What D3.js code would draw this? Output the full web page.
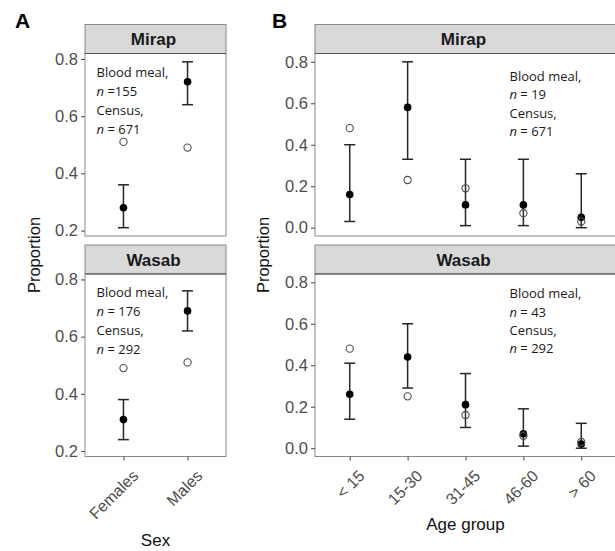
<!DOCTYPE html>
<html><head><meta charset="utf-8">
<script src="https://cdn.jsdelivr.net/npm/d3@7"></script>
<style>body{margin:0;background:#fff}</style>
</head><body><svg id="c" width="615" height="551"></svg>
<script>
// ---------- DATA ----------
const sites = ["Mirap", "Wasab"];
const sexCategories = ["Females", "Males"];
const ageCategories = ["< 15", "15-30", "31-45", "46-60", "> 60"];

const sexMirapEst    = [0.28, 0.72];
const sexMirapLo     = [0.21, 0.64];
const sexMirapHi     = [0.36, 0.79];
const sexMirapCensus = [0.51, 0.49];
const sexWasabEst    = [0.31, 0.69];
const sexWasabLo     = [0.24, 0.62];
const sexWasabHi     = [0.38, 0.76];
const sexWasabCensus = [0.49, 0.51];

const ageMirapEst    = [0.16, 0.58, 0.11, 0.11, 0.05];
const ageMirapLo     = [0.03, 0.33, 0.01, 0.01, 0.00];
const ageMirapHi     = [0.40, 0.80, 0.33, 0.33, 0.26];
const ageMirapCensus = [0.48, 0.23, 0.19, 0.07, 0.03];
const ageWasabEst    = [0.26, 0.44, 0.21, 0.07, 0.02];
const ageWasabLo     = [0.14, 0.29, 0.10, 0.01, 0.00];
const ageWasabHi     = [0.41, 0.60, 0.36, 0.19, 0.12];
const ageWasabCensus = [0.48, 0.25, 0.16, 0.06, 0.03];

const sexTicks = [0.2, 0.4, 0.6, 0.8];
const ageTicks = [0.0, 0.2, 0.4, 0.6, 0.8];

const sexBloodN  = [" =155", " = 176"];
const sexCensusN = [" = 671", " = 292"];
const ageBloodN  = [" = 19", " = 43"];
const ageCensusN = [" = 671", " = 292"];

// ---------- LAYOUT ----------
const svg = d3.select("#c");
const FONT = "'Liberation Sans', Arial, sans-serif";
const panelTops = [53.5, 274];
const panelH = 182.5;
const stripH = 29;

function expand(lo, hi) { const r = hi - lo; return [lo - r * 0.05, hi + r * 0.05]; }

function drawFacet(cfg) {
  const allVals = cfg.series.flatMap(s => [...s.lo, ...s.hi, ...s.est, ...s.census]);
  const ydom = expand(d3.min(allVals), d3.max(allVals));
  const n = cfg.cats.length;
  const x = d3.scaleLinear().domain([-0.6, n - 1 + 0.6]).range([cfg.x0, cfg.x1]);

  cfg.series.forEach((s, k) => {
    const top = panelTops[k];
    const y = d3.scaleLinear().domain(ydom).range([top + panelH, top]);
    const g = svg.append("g");

    // strip
    g.append("rect").attr("x", cfg.x0).attr("y", top - stripH).attr("width", cfg.x1 - cfg.x0).attr("height", stripH)
      .attr("fill", "#d9d9d9").attr("stroke", "#8a8a8a").attr("stroke-width", 1);
    g.append("text").attr("x", (cfg.x0 + cfg.x1) / 2 - 2).attr("y", top - stripH / 2 + 6)
      .attr("text-anchor", "middle").attr("font-family", FONT).attr("font-weight", "bold")
      .attr("font-size", 17).attr("fill", "#1a1a1a").text(sites[k]);

    // panel
    g.append("rect").attr("x", cfg.x0).attr("y", top).attr("width", cfg.x1 - cfg.x0).attr("height", panelH)
      .attr("fill", "#fff").attr("stroke", "#8a8a8a").attr("stroke-width", 1);
    g.append("line").attr("x1", cfg.x0).attr("x2", cfg.x1).attr("y1", top).attr("y2", top)
      .attr("stroke", "#555").attr("stroke-width", 1);

    // y axis
    const ya = g.append("g").attr("transform", `translate(${cfg.x0},0)`)
      .call(d3.axisLeft(y).tickValues(cfg.ticks).tickSize(4).tickPadding(3).tickFormat(d3.format(".1f")));
    ya.select(".domain").remove();
    ya.selectAll("line").attr("stroke", "#444");
    ya.selectAll("text").attr("font-family", FONT).attr("font-size", 16.5).attr("fill", "#4d4d4d");

    // x axis (bottom row only)
    if (k === cfg.series.length - 1) {
      const xa = g.append("g").attr("transform", `translate(0,${top + panelH})`)
        .call(d3.axisBottom(x).tickValues(d3.range(n)).tickSize(4).tickFormat(i => cfg.cats[i]));
      xa.select(".domain").remove();
      xa.selectAll("line").attr("stroke", "#444");
      xa.selectAll("text").attr("x", 0).attr("y", 0).attr("dy", "0.74em").attr("text-anchor", "end")
        .attr("transform", "translate(7,12) rotate(-45)")
        .attr("font-family", FONT).attr("font-size", 16).attr("fill", "#4d4d4d");
    }

    // error bars
    const idx = d3.range(n);
    const eb = g.append("g").attr("stroke", "#262626").attr("stroke-width", 1.5).attr("fill", "none");
    eb.selectAll(".v").data(idx).join("line")
      .attr("x1", i => x(i)).attr("x2", i => x(i)).attr("y1", i => y(s.lo[i])).attr("y2", i => y(s.hi[i]));
    eb.selectAll(".t").data(idx).join("line").attr("class", "t")
      .attr("x1", i => x(i) - 5.5).attr("x2", i => x(i) + 5.5).attr("y1", i => y(s.hi[i])).attr("y2", i => y(s.hi[i]));
    eb.selectAll(".b").data(idx).join("line").attr("class", "b")
      .attr("x1", i => x(i) - 5.5).attr("x2", i => x(i) + 5.5).attr("y1", i => y(s.lo[i])).attr("y2", i => y(s.lo[i]));

    // estimate points
    g.append("g").selectAll("circle").data(idx).join("circle")
      .attr("cx", i => x(i)).attr("cy", i => y(s.est[i])).attr("r", 3.8).attr("fill", "#000");
    // census points
    g.append("g").selectAll("circle").data(idx).join("circle")
      .attr("cx", i => x(i)).attr("cy", i => y(s.census[i])).attr("r", 3.6)
      .attr("fill", "none").attr("stroke", "#4a4a4a").attr("stroke-width", 1.1);

    // annotation
    const ax = x(cfg.noteX), ay = y(cfg.noteY[k]);
    const lines = [["", "Blood meal,"], ["n", cfg.bloodN[k]], ["", "Census,"], ["n", cfg.censusN[k]]];
    const t = g.append("text").attr("font-family", "'Open Sans', sans-serif").attr("font-size", 13).attr("fill", "#1a1a1a");
    lines.forEach((ln, j) => {
      const tl = t.append("tspan").attr("x", ax).attr("y", ay + j * cfg.lineGap);
      if (ln[0]) { tl.append("tspan").attr("font-style", "italic").text(ln[0]); }
      tl.append("tspan").text(ln[1]);
    });
  });

  // y title
  const midY = (panelTops[0] + panelTops[1] + panelH) / 2;
  svg.append("text").attr("transform", `translate(${cfg.yTitleX},${midY}) rotate(-90)`)
    .attr("text-anchor", "middle").attr("font-family", FONT).attr("font-size", 16.5).attr("fill", "#111")
    .text("Proportion");
  // x title
  svg.append("text").attr("x", (cfg.x0 + cfg.x1) / 2).attr("y", cfg.xTitleY)
    .attr("text-anchor", "middle").attr("font-family", FONT).attr("font-size", 17).attr("fill", "#111")
    .text(cfg.xTitle);
  // panel letter
  svg.append("text").attr("x", cfg.letterX).attr("y", 28).attr("font-family", FONT).attr("font-weight", "bold")
    .attr("font-size", 21).attr("fill", "#000").text(cfg.letter);
}

drawFacet({
  cats: sexCategories, x0: 85, x1: 226, ticks: sexTicks,
  series: [
    {est: sexMirapEst, lo: sexMirapLo, hi: sexMirapHi, census: sexMirapCensus},
    {est: sexWasabEst, lo: sexWasabLo, hi: sexWasabHi, census: sexWasabCensus}
  ],
  bloodN: sexBloodN, censusN: sexCensusN, noteX: -0.42, noteY: [0.737, 0.737], lineGap: 19,
  yTitleX: 40, xTitle: "Sex", xTitleY: 546, letter: "A", letterX: 15
});

drawFacet({
  cats: ageCategories, x0: 315, x1: 616, ticks: ageTicks,
  series: [
    {est: ageMirapEst, lo: ageMirapLo, hi: ageMirapHi, census: ageMirapCensus},
    {est: ageWasabEst, lo: ageWasabLo, hi: ageWasabHi, census: ageWasabCensus}
  ],
  bloodN: ageBloodN, censusN: ageCensusN, noteX: 2.76, noteY: [0.707, 0.722], lineGap: 18.3,
  yTitleX: 269, xTitle: "Age group", xTitleY: 530, letter: "B", letterX: 272
});
</script></body></html>
